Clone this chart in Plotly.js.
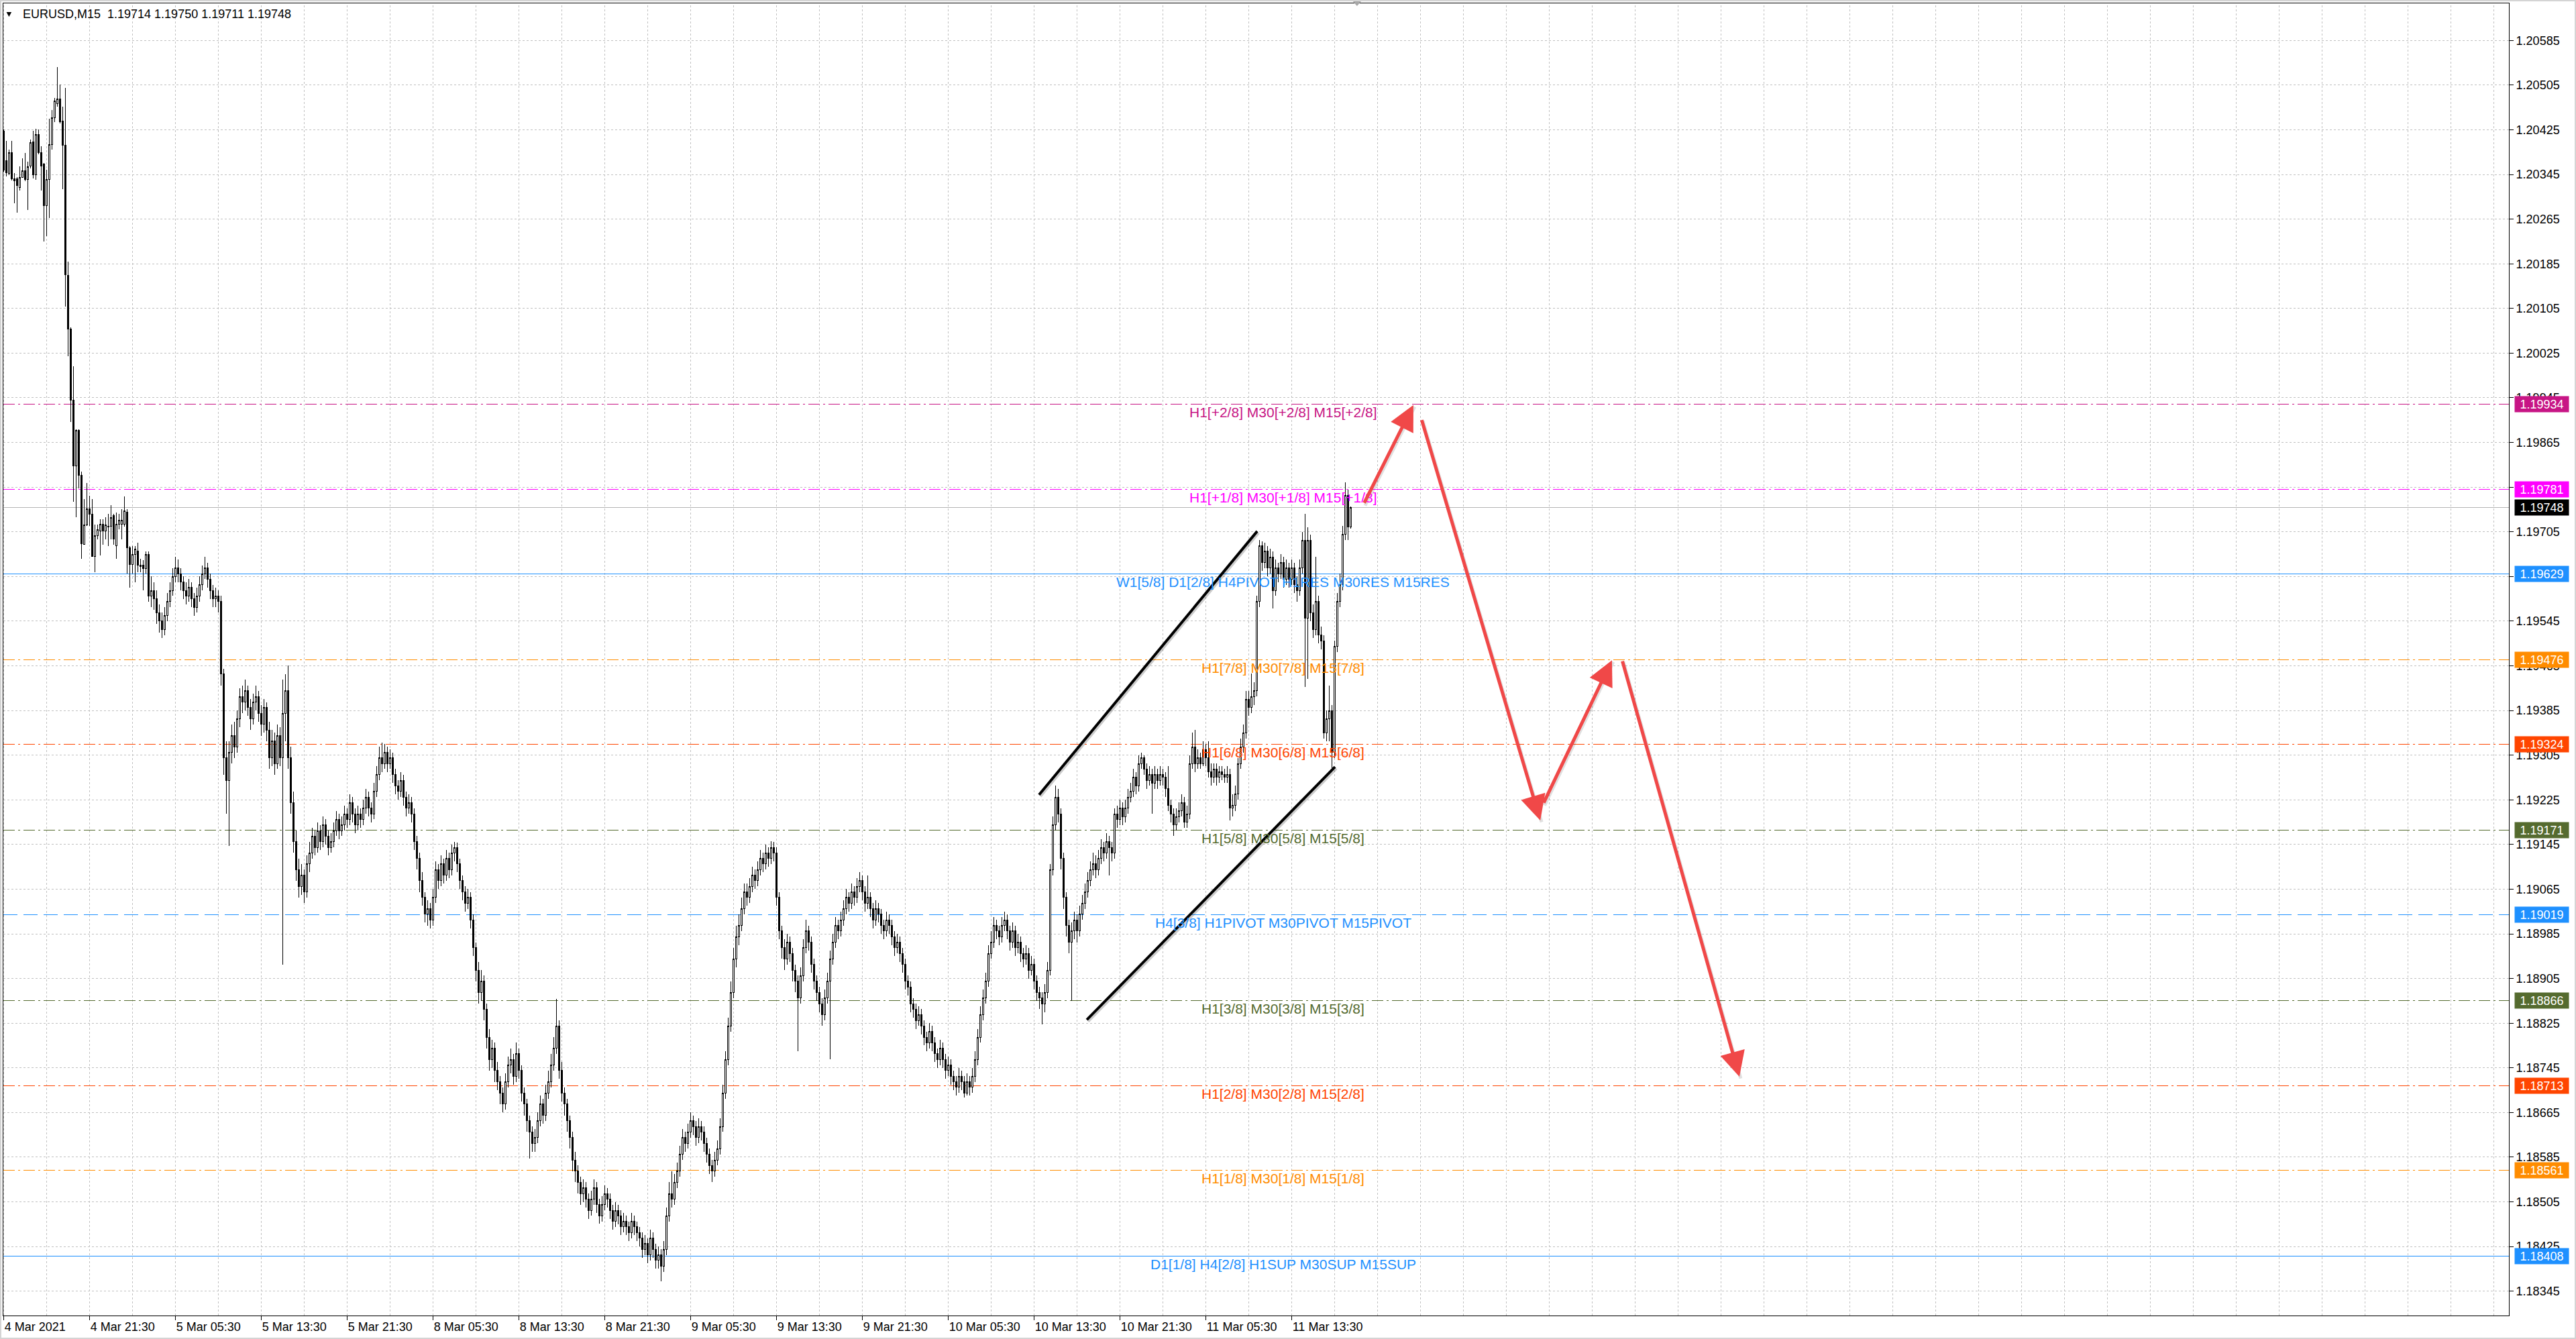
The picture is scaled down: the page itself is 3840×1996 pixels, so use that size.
<!DOCTYPE html>
<html><head><meta charset="utf-8">
<script src="https://cdn.plot.ly/plotly-3.0.1.min.js"></script>
<style>
html,body{margin:0;padding:0;background:#fff;}
#chart{width:3840px;height:1996px;}
#frame{position:absolute;left:0;top:0;width:3840px;height:1996px;box-sizing:border-box;border:2px solid #d4d4d4;pointer-events:none;}
.boxlayer path{shape-rendering:crispEdges;}
.gridlayer path{shape-rendering:crispEdges;}
</style>
</head><body><div id="chart"></div><div id="frame"></div>
<script>
// ---------------- DATA ----------------
const headerText = 'EURUSD,M15\u00a0\u00a01.19714 1.19750 1.19711 1.19748';

const open = [
1.20423,1.20370,1.20347,1.20384,1.20337,1.20337,1.20322,1.20340,1.20352,1.20336,
1.20360,1.20403,1.20345,1.20417,1.20384,1.20364,1.20289,1.20336,1.20399,1.20446,
1.20472,1.20480,1.20440,1.20397,1.20164,1.20068,1.19941,1.19823,1.19887,1.19806,
1.19683,1.19717,1.19746,1.19737,1.19661,1.19698,1.19706,1.19719,1.19706,1.19715,
1.19715,1.19734,1.19680,1.19719,1.19719,1.19719,1.19740,1.19676,1.19647,1.19665,
1.19670,1.19645,1.19645,1.19639,1.19665,1.19590,1.19600,1.19585,1.19560,1.19545,
1.19530,1.19555,1.19580,1.19600,1.19625,1.19640,1.19630,1.19615,1.19600,1.19590,
1.19605,1.19585,1.19570,1.19590,1.19610,1.19630,1.19640,1.19620,1.19600,1.19585,
1.19590,1.19580,1.19450,1.19300,1.19260,1.19310,1.19340,1.19320,1.19370,1.19410,
1.19400,1.19420,1.19390,1.19370,1.19400,1.19410,1.19380,1.19360,1.19390,1.19350,
1.19300,1.19330,1.19290,1.19340,1.19300,1.19380,1.19420,1.19300,1.19220,1.19150,
1.19100,1.19070,1.19090,1.19060,1.19110,1.19130,1.19160,1.19140,1.19170,1.19150,
1.19180,1.19160,1.19140,1.19150,1.19170,1.19190,1.19170,1.19180,1.19200,1.19190,
1.19220,1.19200,1.19180,1.19200,1.19190,1.19210,1.19230,1.19210,1.19200,1.19240,
1.19270,1.19300,1.19290,1.19310,1.19290,1.19300,1.19270,1.19250,1.19240,1.19260,
1.19230,1.19210,1.19220,1.19200,1.19150,1.19120,1.19080,1.19050,1.19020,1.19030,
1.19010,1.19050,1.19100,1.19080,1.19110,1.19090,1.19120,1.19100,1.19130,1.19140,
1.19110,1.19080,1.19060,1.19040,1.19050,1.19010,1.18960,1.18920,1.18880,1.18900,
1.18850,1.18800,1.18760,1.18780,1.18740,1.18720,1.18700,1.18680,1.18720,1.18750,
1.18760,1.18730,1.18770,1.18740,1.18700,1.18680,1.18650,1.18630,1.18610,1.18620,
1.18650,1.18680,1.18660,1.18700,1.18720,1.18750,1.18780,1.18820,1.18740,1.18700,
1.18680,1.18650,1.18620,1.18580,1.18560,1.18540,1.18520,1.18530,1.18510,1.18490,
1.18510,1.18530,1.18500,1.18480,1.18500,1.18520,1.18510,1.18490,1.18470,1.18490,
1.18480,1.18460,1.18470,1.18460,1.18450,1.18470,1.18460,1.18450,1.18440,1.18420,
1.18430,1.18410,1.18440,1.18420,1.18400,1.18410,1.18390,1.18420,1.18480,1.18520,
1.18510,1.18540,1.18560,1.18590,1.18620,1.18610,1.18630,1.18650,1.18640,1.18620,
1.18640,1.18630,1.18610,1.18590,1.18570,1.18560,1.18580,1.18600,1.18640,1.18700,
1.18760,1.18820,1.18880,1.18940,1.18980,1.19000,1.19030,1.19060,1.19050,1.19070,
1.19090,1.19080,1.19100,1.19120,1.19110,1.19130,1.19120,1.19140,1.19130,1.19050,
1.18990,1.18960,1.18940,1.18970,1.18950,1.18920,1.18900,1.18870,1.18910,1.18960,
1.18990,1.18970,1.18930,1.18900,1.18880,1.18860,1.18840,1.18870,1.18900,1.18940,
1.18970,1.19000,1.18990,1.19010,1.19030,1.19050,1.19040,1.19060,1.19050,1.19070,
1.19080,1.19060,1.19040,1.19050,1.19030,1.19010,1.19030,1.19020,1.19000,1.18990,
1.19010,1.19000,1.18980,1.18960,1.18970,1.18950,1.18930,1.18900,1.18890,1.18860,
1.18850,1.18830,1.18840,1.18820,1.18800,1.18790,1.18810,1.18790,1.18770,1.18760,
1.18780,1.18760,1.18740,1.18750,1.18730,1.18720,1.18710,1.18730,1.18720,1.18700,
1.18720,1.18710,1.18730,1.18760,1.18800,1.18840,1.18870,1.18900,1.18950,1.18970,
1.19000,1.18990,1.18980,1.19000,1.19010,1.18990,1.18970,1.18990,1.18960,1.18970,
1.18950,1.18940,1.18950,1.18920,1.18930,1.18900,1.18880,1.18870,1.18860,1.18880,
1.18920,1.19100,1.19180,1.19230,1.19200,1.19120,1.19050,1.19000,1.18970,1.18990,
1.19010,1.18990,1.19020,1.19040,1.19060,1.19080,1.19100,1.19110,1.19100,1.19120,
1.19140,1.19130,1.19150,1.19140,1.19130,1.19200,1.19190,1.19210,1.19195,1.19210,
1.19230,1.19240,1.19265,1.19250,1.19290,1.19300,1.19280,1.19260,1.19270,1.19255,
1.19270,1.19260,1.19270,1.19265,1.19245,1.19215,1.19200,1.19180,1.19195,1.19205,
1.19220,1.19185,1.19200,1.19290,1.19320,1.19290,1.19300,1.19290,1.19315,1.19300,
1.19275,1.19265,1.19280,1.19265,1.19275,1.19270,1.19265,1.19270,1.19210,1.19215,
1.19235,1.19290,1.19320,1.19345,1.19405,1.19390,1.19410,1.19420,1.19580,1.19680,
1.19650,1.19670,1.19640,1.19660,1.19600,1.19640,1.19630,1.19650,1.19620,1.19640,
1.19620,1.19640,1.19610,1.19600,1.19640,1.19690,1.19550,1.19690,1.19560,1.19530,
1.19580,1.19520,1.19510,1.19345,1.19370,1.19385,1.19310,1.19500,1.19580,1.19610,
1.19700,1.19770,1.19714];

const high = [
1.20426,1.20405,1.20389,1.20405,1.20348,1.20340,1.20360,1.20374,1.20383,1.20368,
1.20408,1.20423,1.20427,1.20425,1.20396,1.20366,1.20353,1.20445,1.20460,1.20482,
1.20537,1.20506,1.20466,1.20500,1.20189,1.20071,1.20002,1.19888,1.19888,1.19813,
1.19764,1.19792,1.19770,1.19764,1.19718,1.19718,1.19728,1.19728,1.19731,1.19737,
1.19753,1.19737,1.19740,1.19737,1.19746,1.19768,1.19746,1.19679,1.19680,1.19679,
1.19686,1.19657,1.19654,1.19670,1.19670,1.19625,1.19615,1.19600,1.19575,1.19560,
1.19570,1.19595,1.19615,1.19640,1.19660,1.19655,1.19640,1.19625,1.19615,1.19620,
1.19615,1.19595,1.19605,1.19625,1.19645,1.19660,1.19650,1.19630,1.19610,1.19605,
1.19600,1.19590,1.19460,1.19330,1.19330,1.19360,1.19365,1.19385,1.19425,1.19430,
1.19440,1.19430,1.19405,1.19415,1.19430,1.19420,1.19395,1.19405,1.19400,1.19365,
1.19350,1.19345,1.19360,1.19355,1.19440,1.19450,1.19466,1.19320,1.19240,1.19170,
1.19120,1.19110,1.19100,1.19125,1.19150,1.19175,1.19170,1.19185,1.19180,1.19195,
1.19190,1.19170,1.19165,1.19185,1.19205,1.19200,1.19195,1.19215,1.19210,1.19235,
1.19230,1.19210,1.19215,1.19210,1.19225,1.19245,1.19240,1.19220,1.19255,1.19285,
1.19320,1.19327,1.19325,1.19320,1.19315,1.19310,1.19280,1.19260,1.19275,1.19270,
1.19240,1.19235,1.19230,1.19210,1.19160,1.19130,1.19095,1.19060,1.19045,1.19040,
1.19065,1.19115,1.19110,1.19125,1.19120,1.19135,1.19130,1.19145,1.19150,1.19148,
1.19120,1.19090,1.19070,1.19065,1.19060,1.19020,1.18970,1.18935,1.18920,1.18910,
1.18860,1.18815,1.18795,1.18790,1.18755,1.18730,1.18710,1.18735,1.18765,1.18780,
1.18770,1.18790,1.18780,1.18750,1.18710,1.18690,1.18660,1.18640,1.18635,1.18665,
1.18695,1.18690,1.18715,1.18740,1.18770,1.18800,1.18869,1.18830,1.18755,1.18710,
1.18690,1.18660,1.18630,1.18595,1.18570,1.18550,1.18545,1.18540,1.18520,1.18525,
1.18545,1.18540,1.18510,1.18515,1.18535,1.18530,1.18520,1.18500,1.18505,1.18500,
1.18490,1.18485,1.18480,1.18470,1.18485,1.18480,1.18470,1.18460,1.18450,1.18445,
1.18440,1.18455,1.18450,1.18430,1.18425,1.18420,1.18435,1.18495,1.18540,1.18560,
1.18555,1.18575,1.18605,1.18635,1.18630,1.18645,1.18665,1.18660,1.18650,1.18655,
1.18650,1.18640,1.18620,1.18600,1.18580,1.18595,1.18615,1.18655,1.18715,1.18775,
1.18835,1.18900,1.18960,1.19000,1.19020,1.19050,1.19075,1.19075,1.19085,1.19105,
1.19100,1.19115,1.19135,1.19130,1.19145,1.19140,1.19151,1.19150,1.19140,1.19060,
1.19000,1.18975,1.18985,1.18980,1.18960,1.18930,1.18910,1.18925,1.18975,1.19010,
1.19000,1.18980,1.18940,1.18910,1.18890,1.18870,1.18885,1.18915,1.18955,1.18985,
1.19015,1.19010,1.19025,1.19045,1.19065,1.19060,1.19075,1.19070,1.19085,1.19095,
1.19090,1.19070,1.19090,1.19060,1.19040,1.19045,1.19040,1.19030,1.19010,1.19025,
1.19020,1.19010,1.18990,1.18985,1.18980,1.18960,1.18940,1.18910,1.18900,1.18870,
1.18860,1.18855,1.18850,1.18830,1.18810,1.18825,1.18820,1.18800,1.18780,1.18795,
1.18790,1.18770,1.18765,1.18760,1.18740,1.18730,1.18745,1.18740,1.18730,1.18735,
1.18730,1.18745,1.18775,1.18815,1.18855,1.18885,1.18915,1.18965,1.18990,1.19015,
1.19010,1.19000,1.19015,1.19025,1.19020,1.19000,1.19005,1.19000,1.18985,1.18980,
1.18960,1.18965,1.18960,1.18945,1.18940,1.18910,1.18890,1.18880,1.18895,1.18935,
1.19110,1.19195,1.19250,1.19245,1.19210,1.19130,1.19060,1.19010,1.19005,1.19025,
1.19020,1.19035,1.19055,1.19075,1.19095,1.19115,1.19130,1.19125,1.19135,1.19155,
1.19150,1.19165,1.19160,1.19150,1.19210,1.19215,1.19225,1.19220,1.19225,1.19245,
1.19255,1.19280,1.19275,1.19305,1.19310,1.19305,1.19290,1.19285,1.19280,1.19285,
1.19280,1.19285,1.19280,1.19275,1.19285,1.19225,1.19210,1.19210,1.19220,1.19235,
1.19230,1.19215,1.19305,1.19345,1.19350,1.19315,1.19310,1.19330,1.19325,1.19330,
1.19290,1.19290,1.19290,1.19285,1.19285,1.19280,1.19285,1.19280,1.19235,1.19250,
1.19300,1.19335,1.19360,1.19420,1.19420,1.19451,1.19435,1.19590,1.19690,1.19688,
1.19685,1.19680,1.19675,1.19670,1.19655,1.19650,1.19665,1.19660,1.19655,1.19650,
1.19655,1.19650,1.19625,1.19655,1.19705,1.19737,1.19713,1.19700,1.19575,1.19660,
1.19590,1.19535,1.19520,1.19385,1.19430,1.19395,1.19510,1.19595,1.19630,1.19715,
1.19794,1.19780,1.19750];

const low = [
1.20350,1.20341,1.20344,1.20334,1.20293,1.20276,1.20316,1.20339,1.20333,1.20281,
1.20356,1.20338,1.20336,1.20381,1.20316,1.20225,1.20235,1.20267,1.20390,1.20439,
1.20466,1.20436,1.20319,1.20108,1.20019,1.19902,1.19759,1.19731,1.19783,1.19657,
1.19682,1.19715,1.19715,1.19660,1.19633,1.19691,1.19663,1.19682,1.19692,1.19679,
1.19691,1.19682,1.19657,1.19709,1.19692,1.19714,1.19630,1.19605,1.19630,1.19614,
1.19633,1.19633,1.19600,1.19630,1.19580,1.19570,1.19565,1.19540,1.19525,1.19515,
1.19520,1.19545,1.19570,1.19590,1.19615,1.19615,1.19600,1.19585,1.19575,1.19580,
1.19570,1.19555,1.19560,1.19580,1.19600,1.19620,1.19605,1.19585,1.19570,1.19570,
1.19560,1.19430,1.19270,1.19200,1.19142,1.19290,1.19300,1.19310,1.19355,1.19380,
1.19385,1.19375,1.19350,1.19360,1.19385,1.19365,1.19340,1.19345,1.19330,1.19280,
1.19285,1.19270,1.19280,1.19285,1.18930,1.19330,1.19280,1.19200,1.19130,1.19080,
1.19050,1.19055,1.19040,1.19050,1.19095,1.19120,1.19125,1.19130,1.19135,1.19140,
1.19145,1.19125,1.19130,1.19140,1.19160,1.19155,1.19160,1.19170,1.19175,1.19180,
1.19185,1.19165,1.19170,1.19175,1.19180,1.19200,1.19195,1.19185,1.19190,1.19230,
1.19260,1.19275,1.19280,1.19275,1.19280,1.19255,1.19235,1.19225,1.19230,1.19215,
1.19195,1.19200,1.19185,1.19135,1.19100,1.19060,1.19035,1.19005,1.19000,1.18995,
1.19000,1.19040,1.19065,1.19070,1.19075,1.19080,1.19085,1.19090,1.19115,1.19095,
1.19065,1.19045,1.19025,1.19030,1.18995,1.18945,1.18900,1.18860,1.18865,1.18830,
1.18780,1.18740,1.18745,1.18720,1.18705,1.18680,1.18665,1.18670,1.18710,1.18735,
1.18715,1.18720,1.18725,1.18685,1.18660,1.18630,1.18583,1.18595,1.18595,1.18610,
1.18640,1.18645,1.18650,1.18690,1.18710,1.18740,1.18770,1.18725,1.18685,1.18660,
1.18630,1.18600,1.18560,1.18540,1.18520,1.18500,1.18505,1.18495,1.18475,1.18480,
1.18500,1.18485,1.18466,1.18470,1.18490,1.18495,1.18475,1.18455,1.18460,1.18465,
1.18445,1.18450,1.18445,1.18435,1.18440,1.18445,1.18435,1.18425,1.18405,1.18410,
1.18395,1.18400,1.18405,1.18385,1.18385,1.18363,1.18380,1.18410,1.18470,1.18495,
1.18500,1.18530,1.18550,1.18580,1.18595,1.18600,1.18620,1.18625,1.18605,1.18610,
1.18615,1.18595,1.18575,1.18555,1.18540,1.18550,1.18570,1.18590,1.18630,1.18690,
1.18750,1.18810,1.18870,1.18925,1.18965,1.18990,1.19020,1.19035,1.19040,1.19060,
1.19065,1.19070,1.19090,1.19095,1.19100,1.19105,1.19110,1.19115,1.19035,1.18975,
1.18940,1.18920,1.18930,1.18935,1.18900,1.18880,1.18775,1.18860,1.18900,1.18950,
1.18955,1.18915,1.18885,1.18865,1.18845,1.18820,1.18830,1.18860,1.18760,1.18930,
1.18960,1.18975,1.18980,1.19000,1.19020,1.19025,1.19030,1.19035,1.19040,1.19060,
1.19045,1.19025,1.19030,1.19015,1.18995,1.19000,1.19005,1.18985,1.18975,1.18980,
1.18985,1.18965,1.18945,1.18950,1.18935,1.18915,1.18885,1.18875,1.18845,1.18835,
1.18815,1.18820,1.18805,1.18785,1.18775,1.18780,1.18775,1.18755,1.18745,1.18750,
1.18745,1.18725,1.18730,1.18715,1.18705,1.18695,1.18700,1.18705,1.18692,1.18695,
1.18695,1.18700,1.18720,1.18750,1.18790,1.18830,1.18860,1.18890,1.18940,1.18960,
1.18975,1.18965,1.18970,1.18990,1.18975,1.18955,1.18960,1.18945,1.18950,1.18935,
1.18925,1.18930,1.18905,1.18910,1.18885,1.18865,1.18850,1.18823,1.18845,1.18870,
1.18910,1.19090,1.19170,1.19185,1.19100,1.19030,1.18980,1.18950,1.18865,1.18975,
1.18970,1.18980,1.19010,1.19030,1.19050,1.19070,1.19090,1.19085,1.19090,1.19110,
1.19115,1.19120,1.19090,1.19115,1.19120,1.19175,1.19180,1.19180,1.19185,1.19200,
1.19220,1.19230,1.19235,1.19240,1.19280,1.19270,1.19245,1.19250,1.19200,1.19245,
1.19245,1.19250,1.19250,1.19230,1.19205,1.19185,1.19160,1.19170,1.19185,1.19195,
1.19175,1.19175,1.19190,1.19280,1.19275,1.19280,1.19280,1.19285,1.19285,1.19265,
1.19250,1.19255,1.19250,1.19255,1.19260,1.19255,1.19255,1.19188,1.19195,1.19205,
1.19225,1.19280,1.19310,1.19335,1.19375,1.19380,1.19395,1.19410,1.19570,1.19635,
1.19640,1.19625,1.19630,1.19568,1.19590,1.19615,1.19620,1.19605,1.19610,1.19605,
1.19610,1.19595,1.19580,1.19590,1.19630,1.19427,1.19441,1.19545,1.19515,1.19520,
1.19505,1.19495,1.19335,1.19330,1.19330,1.19282,1.19300,1.19490,1.19570,1.19600,
1.19690,1.19690,1.19711];

const close = [
1.20353,1.20348,1.20384,1.20337,1.20334,1.20325,1.20340,1.20352,1.20336,1.20359,
1.20402,1.20344,1.20417,1.20384,1.20360,1.20289,1.20336,1.20399,1.20446,1.20477,
1.20480,1.20439,1.20397,1.20166,1.20068,1.19941,1.19823,1.19887,1.19806,1.19684,
1.19717,1.19746,1.19737,1.19661,1.19698,1.19709,1.19719,1.19706,1.19717,1.19714,
1.19731,1.19692,1.19719,1.19726,1.19726,1.19743,1.19676,1.19647,1.19665,1.19674,
1.19645,1.19643,1.19639,1.19665,1.19590,1.19600,1.19585,1.19560,1.19545,1.19530,
1.19555,1.19580,1.19600,1.19625,1.19640,1.19630,1.19615,1.19600,1.19590,1.19605,
1.19585,1.19570,1.19590,1.19610,1.19630,1.19640,1.19620,1.19600,1.19585,1.19590,
1.19580,1.19450,1.19300,1.19260,1.19310,1.19340,1.19320,1.19370,1.19410,1.19400,
1.19420,1.19390,1.19370,1.19400,1.19410,1.19380,1.19360,1.19390,1.19350,1.19300,
1.19330,1.19290,1.19340,1.19300,1.19380,1.19420,1.19300,1.19220,1.19150,1.19100,
1.19070,1.19090,1.19060,1.19110,1.19130,1.19160,1.19140,1.19170,1.19150,1.19180,
1.19160,1.19140,1.19150,1.19170,1.19190,1.19170,1.19180,1.19200,1.19190,1.19220,
1.19200,1.19180,1.19200,1.19190,1.19210,1.19230,1.19210,1.19200,1.19240,1.19270,
1.19300,1.19290,1.19310,1.19290,1.19300,1.19270,1.19250,1.19240,1.19260,1.19230,
1.19210,1.19220,1.19200,1.19150,1.19120,1.19080,1.19050,1.19020,1.19030,1.19010,
1.19050,1.19100,1.19080,1.19110,1.19090,1.19120,1.19100,1.19130,1.19140,1.19110,
1.19080,1.19060,1.19040,1.19050,1.19010,1.18960,1.18920,1.18880,1.18900,1.18850,
1.18800,1.18760,1.18780,1.18740,1.18720,1.18700,1.18680,1.18720,1.18750,1.18760,
1.18730,1.18770,1.18740,1.18700,1.18680,1.18650,1.18630,1.18610,1.18620,1.18650,
1.18680,1.18660,1.18700,1.18720,1.18750,1.18780,1.18820,1.18740,1.18700,1.18680,
1.18650,1.18620,1.18580,1.18560,1.18540,1.18520,1.18530,1.18510,1.18490,1.18510,
1.18530,1.18500,1.18480,1.18500,1.18520,1.18510,1.18490,1.18470,1.18490,1.18480,
1.18460,1.18470,1.18460,1.18450,1.18470,1.18460,1.18450,1.18440,1.18420,1.18430,
1.18410,1.18440,1.18420,1.18400,1.18410,1.18390,1.18420,1.18480,1.18520,1.18510,
1.18540,1.18560,1.18590,1.18620,1.18610,1.18630,1.18650,1.18640,1.18620,1.18640,
1.18630,1.18610,1.18590,1.18570,1.18560,1.18580,1.18600,1.18640,1.18700,1.18760,
1.18820,1.18880,1.18940,1.18980,1.19000,1.19030,1.19060,1.19050,1.19070,1.19090,
1.19080,1.19100,1.19120,1.19110,1.19130,1.19120,1.19140,1.19130,1.19050,1.18990,
1.18960,1.18940,1.18970,1.18950,1.18920,1.18900,1.18870,1.18910,1.18960,1.18990,
1.18970,1.18930,1.18900,1.18880,1.18860,1.18840,1.18870,1.18900,1.18940,1.18970,
1.19000,1.18990,1.19010,1.19030,1.19050,1.19040,1.19060,1.19050,1.19070,1.19080,
1.19060,1.19040,1.19050,1.19030,1.19010,1.19030,1.19020,1.19000,1.18990,1.19010,
1.19000,1.18980,1.18960,1.18970,1.18950,1.18930,1.18900,1.18890,1.18860,1.18850,
1.18830,1.18840,1.18820,1.18800,1.18790,1.18810,1.18790,1.18770,1.18760,1.18780,
1.18760,1.18740,1.18750,1.18730,1.18720,1.18710,1.18730,1.18720,1.18700,1.18720,
1.18710,1.18730,1.18760,1.18800,1.18840,1.18870,1.18900,1.18950,1.18970,1.19000,
1.18990,1.18980,1.19000,1.19010,1.18990,1.18970,1.18990,1.18960,1.18970,1.18950,
1.18940,1.18950,1.18920,1.18930,1.18900,1.18880,1.18870,1.18860,1.18880,1.18920,
1.19100,1.19180,1.19230,1.19200,1.19120,1.19050,1.19000,1.18970,1.18990,1.19010,
1.18990,1.19020,1.19040,1.19060,1.19080,1.19100,1.19110,1.19100,1.19120,1.19140,
1.19130,1.19150,1.19140,1.19130,1.19200,1.19190,1.19210,1.19195,1.19210,1.19230,
1.19240,1.19265,1.19250,1.19290,1.19300,1.19280,1.19260,1.19270,1.19255,1.19270,
1.19260,1.19270,1.19265,1.19245,1.19215,1.19200,1.19180,1.19195,1.19205,1.19220,
1.19185,1.19200,1.19290,1.19320,1.19290,1.19300,1.19290,1.19315,1.19300,1.19275,
1.19265,1.19280,1.19265,1.19275,1.19270,1.19265,1.19270,1.19210,1.19215,1.19235,
1.19290,1.19320,1.19345,1.19405,1.19390,1.19410,1.19420,1.19580,1.19680,1.19650,
1.19670,1.19640,1.19660,1.19600,1.19640,1.19630,1.19650,1.19620,1.19640,1.19620,
1.19640,1.19610,1.19600,1.19640,1.19690,1.19550,1.19690,1.19560,1.19530,1.19580,
1.19520,1.19510,1.19345,1.19370,1.19385,1.19310,1.19500,1.19580,1.19610,1.19700,
1.19770,1.19714,1.19748];

// time-axis labels, one every 32 bars (8 hours of M15)
const timeLabels = ['4 Mar 2021','4 Mar 21:30','5 Mar 05:30','5 Mar 13:30','5 Mar 21:30',
  '8 Mar 05:30','8 Mar 13:30','8 Mar 21:30','9 Mar 05:30','9 Mar 13:30','9 Mar 21:30',
  '10 Mar 05:30','10 Mar 13:30','10 Mar 21:30','11 Mar 05:30','11 Mar 13:30'];

// price-axis tick labels
const priceTicks = ['1.20585','1.20505','1.20425','1.20345','1.20265','1.20185','1.20105','1.20025',
  '1.19945','1.19865','1.19785','1.19705','1.19625','1.19545','1.19465','1.19385','1.19305',
  '1.19225','1.19145','1.19065','1.18985','1.18905','1.18825','1.18745','1.18665','1.18585',
  '1.18505','1.18425','1.18345'];

// Murrey / pivot levels
const levelPrice = [1.19934,1.19781,1.19629,1.19476,1.19324,1.19171,1.19019,1.18866,1.18713,1.18561,1.18408];
const levelText = ['H1[+2/8] M30[+2/8] M15[+2/8]','H1[+1/8] M30[+1/8] M15[+1/8]',
  'W1[5/8] D1[2/8] H4PIVOT H1RES M30RES M15RES','H1[7/8] M30[7/8] M15[7/8]',
  'H1[6/8] M30[6/8] M15[6/8]','H1[5/8] M30[5/8] M15[5/8]','H4[3/8] H1PIVOT M30PIVOT M15PIVOT',
  'H1[3/8] M30[3/8] M15[3/8]','H1[2/8] M30[2/8] M15[2/8]','H1[1/8] M30[1/8] M15[1/8]',
  'D1[1/8] H4[2/8] H1SUP M30SUP M15SUP'];
const bidPrice = 1.19748;

// hand-drawn objects: [bar0, price0, bar1, price1]
const channelLines = [[385.8,1.19234,467.1,1.19706],[403.6,1.18831,496.1,1.19284]];
const forecastArrows = [[506.8,1.19755,525.3,1.19932],[528.3,1.19907,572.6,1.19188],
  [573.7,1.19218,599.3,1.19475],[603.1,1.19475,646.8,1.18729]];

// ---------------- STYLE ----------------
const levelColor = ['#C71585','#FF00FF','#1E90FF','#FF8C00','#FF4500','#556B2F','#1E90FF','#556B2F','#FF4500','#FF8C00','#1E90FF'];
const levelDash = ['17px,5px,3px,5px','17px,5px,3px,5px','solid','17px,5px,3px,5px','17px,5px,3px,5px',
  '17px,5px,3px,5px','21px,9px','17px,5px,3px,5px','17px,5px,3px,5px','17px,5px,3px,5px','solid'];
const FONT = '"Liberation Sans", Arial, sans-serif';
const labelBar = 476.8;      // centre of level captions (bar units)
const gridStep = 16, labelStep = 32;
const xMin = -0.175, xMax = 933.575;
const yMin = 1.183014, yMax = 1.206514;
const GRID = '#c0c0c0';
const ARROW = '#F04848';

const bars = close.map((_, i) => i);

const trace = {
  type: 'candlestick', x: bars, open: open, high: high, low: low, close: close,
  increasing: {line: {color: '#000', width: 1}, fillcolor: '#fff'},
  decreasing: {line: {color: '#000', width: 1}, fillcolor: '#000'},
  whiskerwidth: 0, hoverinfo: 'skip', showlegend: false
};

const shapes = [];
// vertical grid
for (let b = 0; b <= xMax; b += gridStep) {
  shapes.push({type:'line', xref:'x', yref:'paper', x0:b, x1:b, y0:0, y1:1, layer:'below',
    line:{color:GRID, width:1, dash:'3px,3px'}});
}
// level lines
levelPrice.forEach((p, i) => {
  shapes.push({type:'line', xref:'paper', yref:'y', x0:0, x1:1, y0:p, y1:p, layer:'below',
    line:{color:levelColor[i], width:1, dash:levelDash[i]}});
});
// bid line
shapes.push({type:'line', xref:'paper', yref:'y', x0:0, x1:1, y0:bidPrice, y1:bidPrice, layer:'below',
  line:{color:'#b4b4b4', width:1}});
const crispCount = shapes.length;
// channel lines (shadow + line)
channelLines.forEach(c => {
  shapes.push({type:'line', xref:'x', yref:'y', x0:c[0]+0.5, y0:c[1]-0.00003, x1:c[2]+0.5, y1:c[3]-0.00003,
    layer:'above', line:{color:'rgba(0,0,0,0.2)', width:4}});
  shapes.push({type:'line', xref:'x', yref:'y', x0:c[0], y0:c[1], x1:c[2], y1:c[3],
    layer:'above', line:{color:'#000', width:4}});
});
// forecast arrow shadows
forecastArrows.forEach(a => {
  shapes.push({type:'line', xref:'x', yref:'y', x0:a[0]+0.5, y0:a[1]-0.00003, x1:a[2]+0.5, y1:a[3]-0.00003,
    layer:'above', line:{color:'rgba(0,0,0,0.12)', width:5}});
});
// header triangle
shapes.push({type:'path', xref:'paper', yref:'paper', xsizemode:'pixel', ysizemode:'pixel',
  xanchor:0, yanchor:1, path:'M4.6,-13 L12.2,-13 L8.4,-20 Z', fillcolor:'#000', line:{width:0}});
// chart shift marker
shapes.push({type:'path', xref:'x', yref:'paper', xsizemode:'pixel', ysizemode:'pixel',
  xanchor:504.3, yanchor:1, path:'M-7,4 L7,4 L0,-4 Z', fillcolor:'#a8a8a8', line:{width:0}});

const annotations = [];
levelPrice.forEach((p, i) => {
  annotations.push({xref:'x', yref:'y', x:labelBar, y:p, text:levelText[i], showarrow:false,
    xanchor:'center', yanchor:'middle', yshift:-12, font:{family:FONT, size:21, color:levelColor[i]}});
  annotations.push({xref:'paper', yref:'y', x:1, y:p, xanchor:'left', yanchor:'middle', xshift:8,
    text:p.toFixed(5), showarrow:false, bgcolor:levelColor[i], width:80, height:23, borderpad:0,
    align:'center', font:{family:FONT, size:18, color:'#fff'}});
});
annotations.push({xref:'paper', yref:'y', x:1, y:bidPrice, xanchor:'left', yanchor:'middle', xshift:8,
  text:bidPrice.toFixed(5), showarrow:false, bgcolor:'#000', width:80, height:23, borderpad:0,
  align:'center', font:{family:FONT, size:18, color:'#fff'}});
forecastArrows.forEach(a => {
  annotations.push({xref:'x', yref:'y', axref:'x', ayref:'y', x:a[2], y:a[3], ax:a[0], ay:a[1],
    text:'', showarrow:true, arrowhead:2, arrowsize:1.5, arrowwidth:5, arrowcolor:ARROW, standoff:0});
});
annotations.push({xref:'paper', yref:'paper', x:0, y:1, xanchor:'left', yanchor:'middle', xshift:27, yshift:-16,
  text:headerText, showarrow:false, font:{family:FONT, size:18, color:'#000'}});

const layout = {
  width: 3840, height: 1996,
  margin: {l:5, r:100, t:5, b:35, pad:0},
  paper_bgcolor: '#fff', plot_bgcolor: '#fff',
  showlegend: false, boxgap: 0.4,
  font: {family: FONT, size: 18, color: '#000'},
  xaxis: {
    range: [xMin, xMax], rangeslider: {visible:false},
    tickmode: 'array', tickvals: timeLabels.map((_, i) => i * labelStep), ticktext: timeLabels,
    ticklabelposition: 'outside right',
    ticks: 'outside', ticklen: 6, tickcolor: '#000', tickwidth: 1,
    showgrid: false, zeroline: false,
    showline: true, mirror: true, linecolor: '#000', linewidth: 1,
    tickfont: {family: FONT, size: 18, color: '#000'}, fixedrange: true
  },
  yaxis: {
    range: [yMin, yMax], side: 'right',
    tickmode: 'array', tickvals: priceTicks.map(Number), ticktext: priceTicks,
    ticks: 'outside', ticklen: 6, tickcolor: '#000', tickwidth: 1,
    showgrid: true, gridcolor: GRID, gridwidth: 1, griddash: '3px,3px',
    zeroline: false, showline: true, mirror: true, linecolor: '#000', linewidth: 1,
    tickfont: {family: FONT, size: 18, color: '#000'}, fixedrange: true
  },
  shapes: shapes,
  annotations: annotations
};

Plotly.newPlot('chart', [trace], layout, {staticPlot: true, displayModeBar: false}).then(() => {
  document.querySelectorAll('.shapelayer path').forEach(p => {
    const idx = Number(p.getAttribute('data-index'));
    if (idx < crispCount) p.style.shapeRendering = 'crispEdges';
  });
});
</script>
</body></html>
